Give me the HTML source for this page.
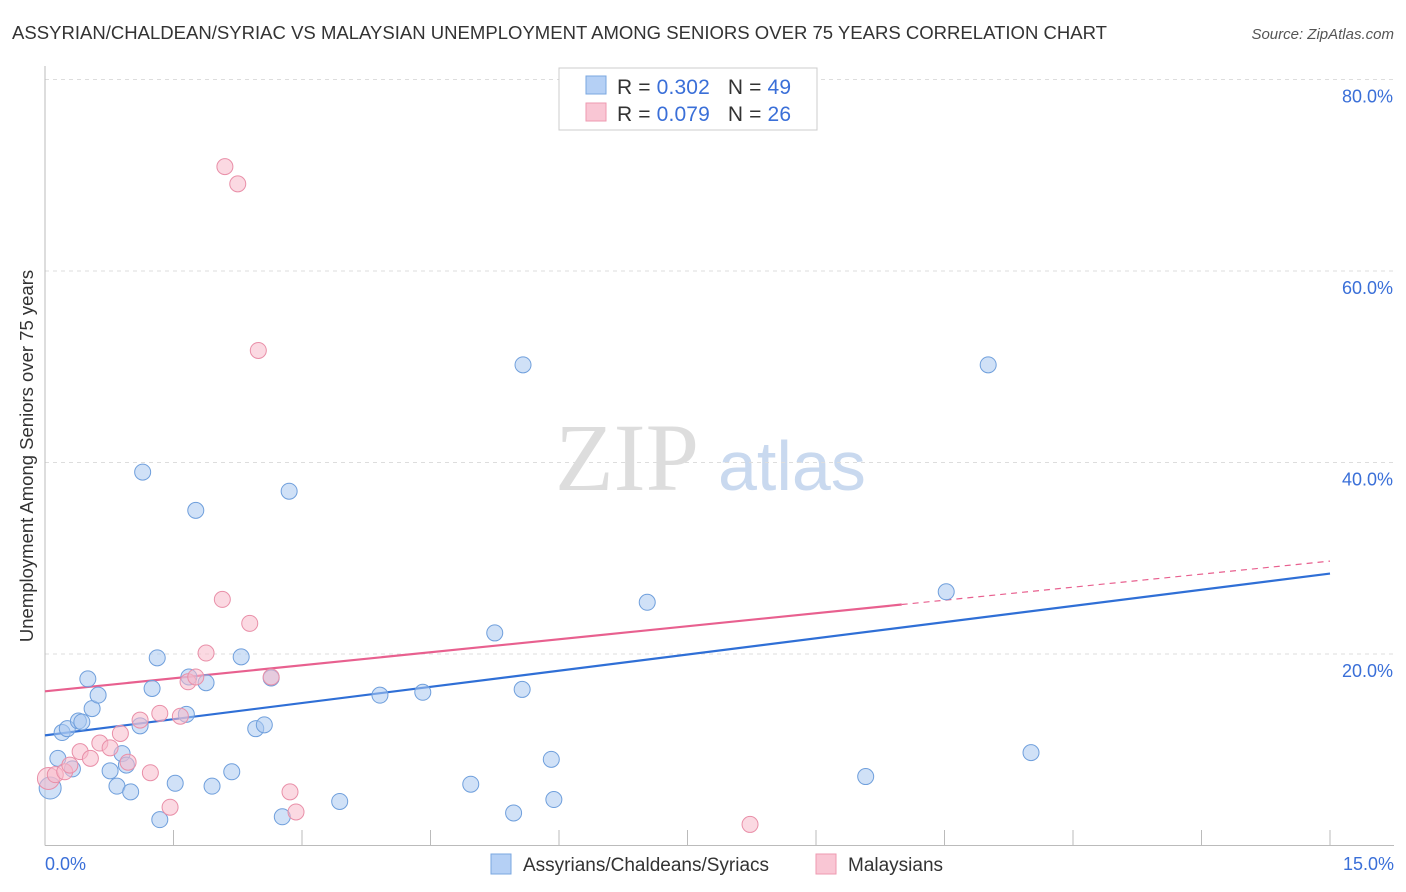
<!DOCTYPE html>
<html><head><meta charset="utf-8"><style>
body{margin:0;background:#fff;font-family:"Liberation Sans",sans-serif;}
svg{display:block}
</style></head><body>
<svg id="chart" width="1406" height="892" xmlns="http://www.w3.org/2000/svg">
<text x="12" y="39" font-size="18.5" fill="#333" textLength="1095" lengthAdjust="spacingAndGlyphs">ASSYRIAN/CHALDEAN/SYRIAC VS MALAYSIAN UNEMPLOYMENT AMONG SENIORS OVER 75 YEARS CORRELATION CHART</text>
<text x="1394" y="39" font-size="15" fill="#555" text-anchor="end" font-style="italic">Source: ZipAtlas.com</text>
<text x="555" y="490" font-size="96" fill="#ddd" font-family="Liberation Serif">ZIP</text>
<text x="718" y="490" font-size="70" fill="#c9d9ef">atlas</text>
<text transform="translate(33,456) rotate(-90)" font-size="18.5" fill="#333" text-anchor="middle">Unemployment Among Seniors over 75 years</text>
<g id="grid"></g><g id="axes"></g><g id="lines"></g><g id="pts"></g>
<g>
<rect x="559" y="68" width="258" height="62" fill="#fff" stroke="#ccc"/>
<rect x="586" y="76" width="20" height="18" fill="#b5d0f5" stroke="#7aa7e0"/>
<text x="617" y="94" font-size="21" fill="#333" textLength="174">R = <tspan fill="#3a6fd8">0.302</tspan>&#160;&#160;&#160;N = <tspan fill="#3a6fd8">49</tspan></text>
<rect x="586" y="103" width="20" height="18" fill="#f9c6d4" stroke="#ee9ab0"/>
<text x="617" y="121" font-size="21" fill="#333" textLength="174">R = <tspan fill="#3a6fd8">0.079</tspan>&#160;&#160;&#160;N = <tspan fill="#3a6fd8">26</tspan></text>
</g>
<g>
<rect x="491" y="854" width="20" height="20" fill="#b5d0f5" stroke="#7aa7e0"/>
<text x="523" y="871" font-size="19" fill="#333">Assyrians/Chaldeans/Syriacs</text>
<rect x="816" y="854" width="20" height="20" fill="#f9c6d4" stroke="#ee9ab0"/>
<text x="848" y="871" font-size="19" fill="#333">Malaysians</text>
</g>
</svg>
<script>
const yTicks=[20,40,60,80];
const xTickLabels=["0.0%","15.0%"];
const blueX=[0.06,0.15,0.20,0.26,0.32,0.39,0.43,0.50,0.55,0.62,0.76,0.84,0.90,0.95,1.00,1.11,1.14,1.25,1.31,1.34,1.52,1.65,1.68,1.76,1.88,1.95,2.18,2.29,2.46,2.56,2.64,2.77,2.85,3.44,3.91,4.41,4.97,5.25,5.47,5.57,5.58,5.91,5.94,7.03,9.58,10.52,11.01,11.51];
const blueY=[6.0,9.1,11.8,12.2,8.0,13.0,12.9,17.4,14.3,15.7,7.8,6.2,9.6,8.4,5.6,12.5,39.0,16.4,19.6,2.7,6.5,13.7,17.6,35.0,17.0,6.2,7.7,19.7,12.2,12.6,17.5,3.0,37.0,4.6,15.7,16.0,6.4,22.2,3.4,16.3,50.2,9.0,4.8,25.4,7.2,26.5,50.2,9.7];
const pinkX=[0.04,0.12,0.23,0.29,0.41,0.53,0.64,0.76,0.88,0.97,1.11,1.23,1.34,1.46,1.58,1.67,1.76,1.88,2.07,2.10,2.25,2.39,2.49,2.64,2.86,2.93,8.23];
const pinkY=[7.0,7.4,7.7,8.4,9.8,9.1,10.7,10.2,11.7,8.7,13.1,7.6,13.8,4.0,13.5,17.1,17.6,20.1,25.7,70.9,69.1,23.2,51.7,17.6,5.6,3.5,2.2];
const blueTrend=[11.5,28.4];
const pinkTrend=[16.1,29.7];
const pinkSolidEnd=10.0;
const NS="http://www.w3.org/2000/svg";
const X=v=>45+v/15*1285, Y=v=>845.5-v*9.575;
function mk(tag,attrs,parent){const e=document.createElementNS(NS,tag);for(const k in attrs)e.setAttribute(k,attrs[k]);document.getElementById(parent).appendChild(e);return e;}
yTicks.forEach(t=>{
 const l=mk('line',{x1:45,x2:1394,y1:Y(t),y2:Y(t),stroke:'#ddd','stroke-dasharray':'4,4'},'grid');
 
 
 const tx=mk('text',{x:1393,y:Y(t)+23,'font-size':18,fill:'#3a6fd8','text-anchor':'end'},'grid');
 
 
 tx.textContent=t.toFixed(1)+'%';
});
const xa=mk('line',{x1:45,x2:1394,y1:845.5,y2:845.5,stroke:'#bbb'},'axes');


const ya=mk('line',{x1:45,x2:45,y1:66,y2:845.5,stroke:'#bbb'},'axes');


for(let i=1;i<=10;i++){const t=mk('line',{x1:X(i*1.5),x2:X(i*1.5),y1:830,y2:845.5,stroke:'#bbb'},'axes');
 
 }
[[0,'start',45],[15,'end',1394]].forEach((d,i)=>{const t=mk('text',{x:d[2],y:870,'font-size':18,fill:'#3a6fd8','text-anchor':d[1]},'axes');
 
 
 t.textContent=xTickLabels[i];});
function draw(xs,ys,fill,stroke,name){xs.forEach((x,i)=>{const c=mk('circle',{cx:X(x),cy:Y(ys[i]),r:(i===0?11:8),fill:fill,'fill-opacity':0.55,stroke:stroke,'stroke-width':1},'pts');
 
 });}
draw(blueX,blueY,'#a9c8f0','#6f9fdc','assyrian-point');
draw(pinkX,pinkY,'#f7b9ca','#e98fa8','malaysian-point');
const bl=mk('line',{x1:X(0),y1:Y(blueTrend[0]),x2:X(15),y2:Y(blueTrend[1]),stroke:'#2f6fd6','stroke-width':2.2},'lines');


const pm=pinkTrend[0]+(pinkTrend[1]-pinkTrend[0])*pinkSolidEnd/15;
const pl=mk('line',{x1:X(0),y1:Y(pinkTrend[0]),x2:X(pinkSolidEnd),y2:Y(pm),stroke:'#e8608f','stroke-width':2.2},'lines');


const pd=mk('line',{x1:X(pinkSolidEnd),y1:Y(pm),x2:X(15),y2:Y(pinkTrend[1]),stroke:'#e8608f','stroke-width':1.2,'stroke-dasharray':'6,5'},'lines');


</script>
</body></html>
